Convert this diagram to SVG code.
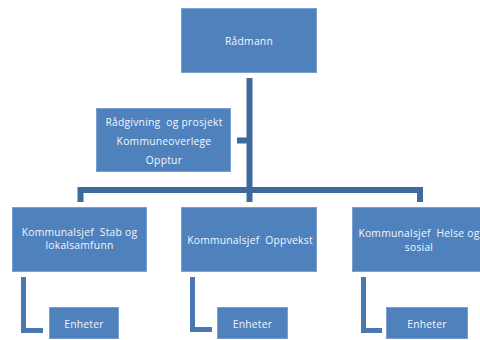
<svg xmlns="http://www.w3.org/2000/svg" width="480" height="340" viewBox="0 0 480 340">
<style>
.box{fill:#4F81BD;stroke:#7BA0CD;stroke-width:1}
.t{font-family:"Open Sans","Liberation Sans",sans-serif;font-size:10.3px;letter-spacing:0.25px;fill:#F4F7FB;text-anchor:middle;white-space:pre}
.main{fill:none;stroke:#3E6A9C;stroke-width:6}
.sub{fill:none;stroke:#4A78B0;stroke-width:5}
</style>
<rect width="480" height="340" fill="#FFFFFF"/>
<g id="connectors">
<path class="main" d="M249.5 78 V190"/>
<path class="main" d="M237 140.5 H249.5"/>
<path class="main" d="M80.5 202 V190 H420 V202"/>
<path class="main" d="M249.5 190 V202"/>
<path class="sub" d="M23.5 277 V330.5 H43"/>
<path class="sub" d="M192.5 277 V329.5 H212"/>
<path class="sub" d="M363.5 277 V330.5 H382"/>
</g>
<g id="radmann">
<rect class="box" x="181.5" y="8.5" width="135" height="64"/>
<text class="t" x="249" y="45">Rådmann</text>
</g>
<g id="radgivning">
<rect class="box" x="96.5" y="108.5" width="134" height="63"/>
<text class="t" x="164" y="126" xml:space="preserve">Rådgivning  og prosjekt</text>
<text class="t" x="164" y="145">Kommuneoverlege</text>
<text class="t" x="164" y="164">Opptur</text>
</g>
<g id="stab">
<rect class="box" x="12.5" y="207.5" width="134" height="64"/>
<text class="t" x="79.5" y="236" xml:space="preserve">Kommunalsjef  Stab og</text>
<text class="t" x="79.5" y="249">lokalsamfunn</text>
</g>
<g id="oppvekst">
<rect class="box" x="181.5" y="207.5" width="135" height="64"/>
<text class="t" x="250" y="244" xml:space="preserve">Kommunalsjef  Oppvekst</text>
</g>
<g id="helse">
<rect class="box" x="352.5" y="207.5" width="135" height="64"/>
<text class="t" x="419" y="237" xml:space="preserve">Kommunalsjef  Helse og</text>
<text class="t" x="419" y="251">sosial</text>
</g>
<g id="enheter1">
<rect class="box" x="49.5" y="307.5" width="69" height="31"/>
<text class="t" x="84" y="328">Enheter</text>
</g>
<g id="enheter2">
<rect class="box" x="217.5" y="307.5" width="70" height="31"/>
<text class="t" x="252.5" y="328">Enheter</text>
</g>
<g id="enheter3">
<rect class="box" x="386.5" y="307.5" width="81" height="31"/>
<text class="t" x="427" y="328">Enheter</text>
</g>
</svg>
